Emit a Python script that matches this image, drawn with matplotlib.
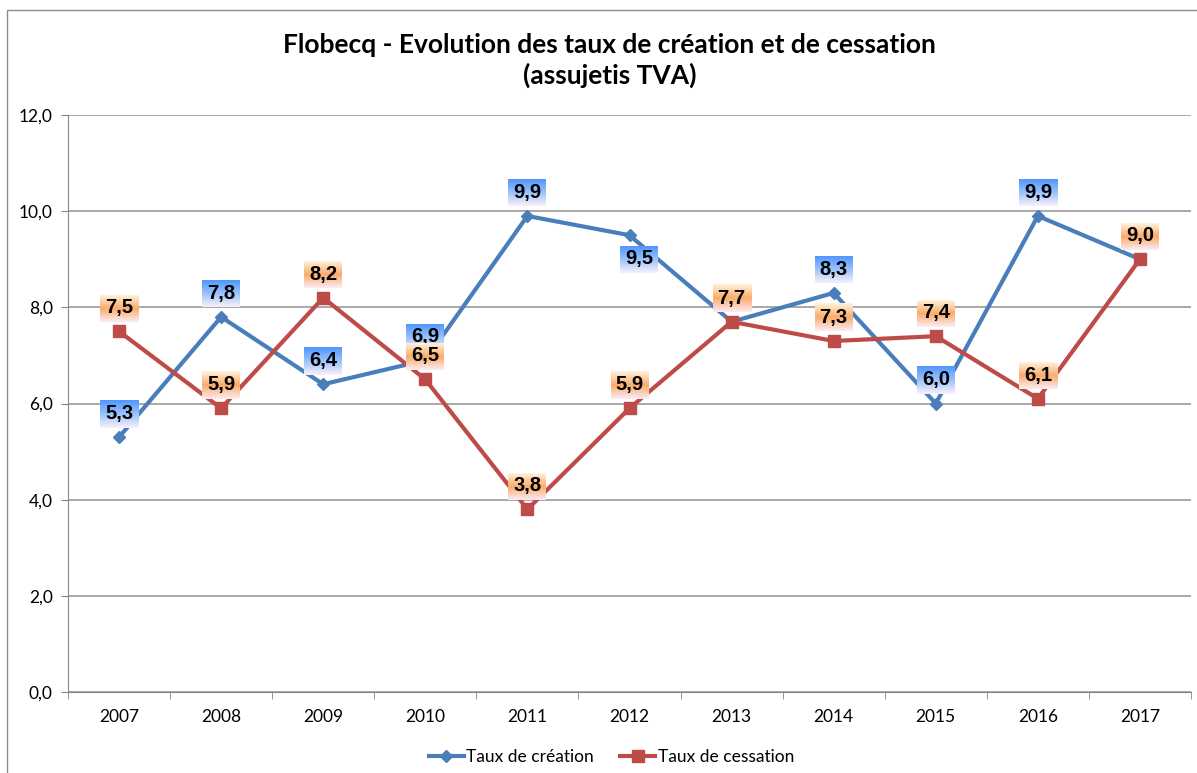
import numpy as np
import matplotlib
matplotlib.use("Agg")
import matplotlib.pyplot as plt
from matplotlib.patches import Rectangle
from matplotlib.ticker import FuncFormatter, FixedLocator

plt.rcParams['font.family'] = ['Lato', 'DejaVu Sans']

# donnees
annees = ['2007', '2008', '2009', '2010', '2011', '2012', '2013', '2014', '2015', '2016', '2017']
creation = [5.3, 7.8, 6.4, 6.9, 9.9, 9.5, 7.7, 8.3, 6.0, 9.9, 9.0]
cessation = [7.5, 5.9, 8.2, 6.5, 3.8, 5.9, 7.7, 7.3, 7.4, 6.1, 9.0]

bleu = '#4A7EBB'
rouge = '#BE4B48'

fig = plt.figure(figsize=(11.97, 7.73), dpi=100)
ax = fig.add_axes([68 / 1197, 81 / 773, 1123 / 1197, 577 / 773])

# cadre du graphique
fig.patches.append(Rectangle((7 / 1197, -0.1), 1.2, 1.1 - 10 / 773,
                             transform=fig.transFigure, fill=False,
                             edgecolor='#8c8c8c', lw=1.0, zorder=0))

x = np.arange(len(annees))
ax.plot(x, creation, color=bleu, lw=3, marker='D', ms=6, zorder=3,
        label='Taux de création')
ax.plot(x, cessation, color=rouge, lw=3, marker='s', ms=8, zorder=3,
        label='Taux de cessation')

ax.set_xlim(-0.5, len(annees) - 0.5)
ax.set_ylim(0, 12)
ax.set_yticks(np.arange(0, 12.1, 2))
ax.yaxis.set_major_formatter(FuncFormatter(lambda v, p: f'{v:.1f}'.replace('.', ',')))
ax.set_xticks(x)
ax.set_xticklabels(annees)
ax.xaxis.set_minor_locator(FixedLocator(np.arange(-0.5, len(annees), 1)))
ax.tick_params(axis='x', which='major', length=0, pad=12, labelsize=12.5)
ax.tick_params(axis='x', which='minor', length=5, color='#868686', direction='out')
ax.tick_params(axis='y', length=5, color='#868686', pad=6, labelsize=12.5)
ax.grid(axis='y', color='#9a9a9a', lw=1.2)
ax.set_axisbelow(True)
for s in ['top', 'right']:
    ax.spines[s].set_visible(False)
ax.spines['left'].set_color('#868686')
ax.spines['bottom'].set_color('#868686')

fig.text(0.509, 0.942, 'Flobecq - Evolution des taux de création et de cessation',
         ha='center', va='center', fontsize=19, fontweight='bold')
fig.text(0.509, 0.903, '(assujetis TVA)', ha='center', va='center',
         fontsize=19, fontweight='bold')

ax.legend(loc='center', bbox_to_anchor=(0.484, -0.113), ncol=2, frameon=False,
          fontsize=12.5, handlelength=2.0, columnspacing=1.5, handletextpad=0.15)

# etiquettes avec fond en degrade
grad_bleu = [(0.0, (80, 150, 255)), (0.5, (155, 195, 250)), (1.0, (250, 240, 252))]
grad_orange = [(0.0, (255, 242, 220)), (0.5, (250, 172, 105)), (1.0, (252, 236, 246))]


def degrade(stops, n=64):
    t = np.linspace(0, 1, n)
    cols = np.zeros((n, 1, 3))
    for k in range(3):
        cols[:, 0, k] = np.interp(t, [s[0] for s in stops], [s[1][k] / 255 for s in stops])
    return cols


textes = []
for i, v in enumerate(creation):
    dx, dy = (0, 17)
    if i == 5:
        dx, dy = (7, -17)
    t = ax.annotate(f'{v:.1f}'.replace('.', ','), (x[i], v), xytext=(dx, dy),
                    textcoords='offset points', ha='center', va='center',
                    fontsize=14.5, fontweight='bold', family=['Liberation Sans'], zorder=6)
    textes.append((t, grad_bleu, 5))
for i, v in enumerate(cessation):
    t = ax.annotate(f'{v:.1f}'.replace('.', ','), (x[i], v), xytext=(0, 17),
                    textcoords='offset points', ha='center', va='center',
                    fontsize=14.5, fontweight='bold', family=['Liberation Sans'], zorder=8)
    textes.append((t, grad_orange, 7))

fig.canvas.draw()
inv = ax.transData.inverted()
for t, stops, z in textes:
    bb = t.get_window_extent()
    cx = (bb.x0 + bb.x1) / 2
    cy = (bb.y0 + bb.y1) / 2
    (x0, y0) = inv.transform((cx - 19, cy - 14))
    (x1, y1) = inv.transform((cx + 19, cy + 13))
    ax.imshow(degrade(stops), extent=(x0, x1, y0, y1), aspect='auto',
              zorder=z, interpolation='bilinear')

ax.set_xlim(-0.5, len(annees) - 0.5)
ax.set_ylim(0, 12)

fig.savefig('out.png', dpi=100)
